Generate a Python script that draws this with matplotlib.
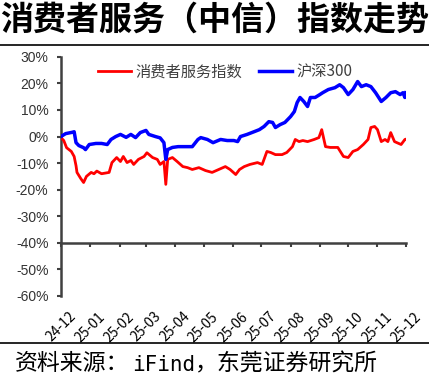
import matplotlib
matplotlib.use("Agg")
import matplotlib.pyplot as plt
import pandas as pd

plt.rcParams['font.family'] = ['Noto Sans CJK SC', 'DejaVu Sans']

base_date = "2024-12-01"
# days since base date, and index change in %
blue_days = [0, 5, 12, 14, 16, 19, 24, 26, 30, 37, 43, 49, 53, 58, 63, 69, 74, 79, 84, 90,
             93, 100, 105, 109, 111, 113, 118, 124, 132, 139, 145, 148, 155, 161, 169, 176,
             183, 187, 190, 197, 205, 210, 215, 220, 224, 227, 232, 237, 243, 247, 250, 253,
             257, 261, 264, 269, 274, 277, 283, 290, 295, 299, 304, 309, 314, 318, 323, 328,
             333, 339, 344, 349, 354, 359, 362, 364, 365]
blue_vals = [0, 1.1, 1.6, 1.8, -2.3, -3.4, -4.2, -4.9, -3, -2.6, -2.6, -3, -1.1, 0, 0.8, -0.3,
             0.8, -0.4, 1.5, 2.3, 0.8, 0, -0.5, -2.3, -8.6, -4.9, -4.1, -3.8, -3.8, -3.8, -1.1,
             -0.4, -1.1, -2.3, -1.1, -1.5, -1.5, -1.9, 0, 0.8, 1.9, 2.6, 3.8, 5.6, 5.3, 3.4, 4.5,
             5.3, 7.5, 9.4, 12.8, 14.7, 13.2, 11.3, 14.7, 14.7, 15.8, 16.5, 17.7, 18.4, 19.5,
             18.4, 15.8, 17.7, 20.7, 18.8, 19.5, 18.8, 16.5, 13.2, 14.7, 16.5, 16.9, 15.8, 16.5,
             14.7, 16.5]

red_days = [0, 3, 6, 11, 14, 16, 17, 21, 24, 27, 32, 35, 38, 43, 51, 54, 59, 63, 66, 70, 74,
            77, 82, 88, 91, 97, 102, 105, 109, 111, 113, 118, 123, 129, 134, 139, 146, 153,
            160, 167, 174, 179, 185, 189, 194, 200, 208, 213, 218, 222, 227, 234, 239, 245,
            248, 252, 256, 261, 268, 273, 276, 280, 285, 293, 299, 304, 309, 314, 320, 325,
            328, 332, 335, 339, 343, 346, 349, 353, 360, 364, 365]
red_vals = [-0.4, -1.5, -4.2, -5.6, -7.5, -11, -13.5, -15.8, -17.3, -15, -13.5, -14, -13, -14,
            -13.5, -9.8, -7.9, -9.4, -7.5, -9.8, -9, -10.5, -8.6, -7.5, -6.1, -7.9, -8.6, -10.5,
            -9.4, -18, -8.6, -7.9, -9.4, -11.3, -11.7, -12.4, -11.7, -12.8, -13.5, -12.4, -11.3,
            -12.4, -14.3, -12.4, -11.3, -10.5, -9.8, -10.5, -5.6, -6, -6.8, -6.8, -6, -3.8,
            -1.1, -1.9, -1.5, -1.9, -1.1, -0.4, 2.6, -3.8, -4.1, -4.1, -7.5, -7.9, -5.6, -4.9,
            -3, -1.1, 3.4, 3.8, 2.6, -1.9, -1.1, -1.9, 1.5, -1.9, -3, -1.1, -1]

series_names = ["消费者服务指数", "沪深300"]
tick_months = pd.date_range("2024-12-01", "2025-12-01", freq="MS")
y_ticks = list(range(-60, 31, 10))

title = "消费者服务（中信）指数走势"
source_parts = ["资料来源：", "iFind", "，东莞证券研究所"]

b0 = pd.Timestamp(base_date)
blue_dates = b0 + pd.to_timedelta(blue_days, unit="D")
red_dates = b0 + pd.to_timedelta(red_days, unit="D")

fig = plt.figure(figsize=(4.29, 3.92), dpi=100)
ax = fig.add_axes([0.142, 0.245, 0.804, 0.61])

ax.plot(red_dates, red_vals, color="#FF0000", lw=2.0, label=series_names[0], zorder=3)
ax.plot(blue_dates, blue_vals, color="#0000FF", lw=2.5, label=series_names[1], zorder=3)

ax.set_ylim(-60, 30)
ax.set_xlim(tick_months[0], tick_months[-1])
ax.set_yticks(y_ticks)
ax.set_yticklabels([f"{v}%" for v in y_ticks], fontfamily=["Liberation Sans"], fontsize=10,
                   color="#333333")
ax.set_xticks(tick_months)
ax.set_xticklabels([d.strftime("%y-%m") for d in tick_months], fontfamily=["Liberation Sans"],
                   fontsize=8.5, color="#333333")

for s in ["top", "right"]:
    ax.spines[s].set_visible(False)
ax.spines["left"].set_color("#404040")
ax.spines["left"].set_linewidth(1.8)
ax.spines["bottom"].set_position(("data", -40))
ax.spines["bottom"].set_color("#404040")
ax.spines["bottom"].set_linewidth(1.8)
ax.tick_params(axis="y", direction="out", length=3, width=1.5, color="#404040", pad=6)
ax.tick_params(axis="x", direction="out", length=3, width=1.5, color="#404040", pad=45,
               labelrotation=45)

leg = ax.legend(loc="upper left", bbox_to_anchor=(0.08, 1.01), ncol=2, frameon=False,
                fontsize=11, handlelength=2.15, columnspacing=1.1, handletextpad=0.3,
                borderaxespad=0.2)
for t in leg.get_texts():
    t.set_color("#404040")

fig.text(0.0, 0.948, title, fontsize=23.8, fontweight="bold", ha="left", va="center", color="black")
fig.add_artist(plt.Line2D([0, 1], [1 - 45/392, 1 - 45/392], color="black", lw=1.2))
fig.add_artist(plt.Line2D([0, 1], [1 - 343/392, 1 - 343/392], color="black", lw=1.2))

t1 = fig.text(15/429, 1 - 370/392, source_parts[0], fontsize=16.5, ha="left", va="baseline",
              color="black")
t2 = ax.annotate(source_parts[1], xy=(1, 0), xycoords=t1, xytext=(2, 0), textcoords="offset points",
                 fontsize=15, family=["DejaVu Sans Mono"], ha="left", va="bottom",
                 color="black", annotation_clip=False)
t3 = ax.annotate(source_parts[2], xy=(1, 0), xycoords=t2, fontsize=16.5, ha="left", va="bottom",
                 color="black", annotation_clip=False)

fig.savefig("out.png", dpi=100)
